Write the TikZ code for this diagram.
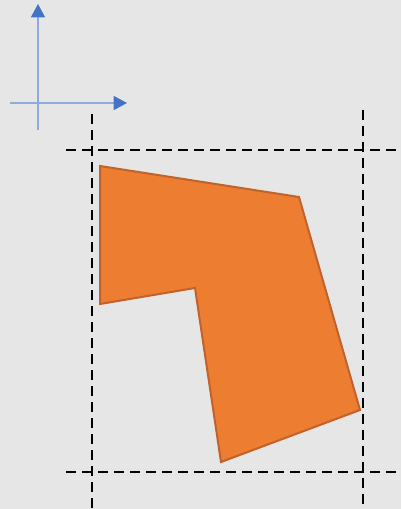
\documentclass[tikz,border=0pt]{standalone}
\usetikzlibrary{arrows.meta}
\definecolor{bg}{HTML}{E7E6E6}
\definecolor{axisline}{HTML}{8FAADC}
\definecolor{axistip}{HTML}{4472C4}
\definecolor{shapefill}{HTML}{ED7D31}
\definecolor{shapeedge}{HTML}{C0622A}
\begin{document}
\begin{tikzpicture}[x=0.75pt,y=-0.75pt,
  axis/.style={draw=axisline,line width=1.1pt,-{Triangle[length=10pt,width=10.5pt,color=axistip,fill=axistip]}},
  guide/.style={draw=black,line width=1.5pt,dash pattern=on 7.5pt off 4.5pt},
  piece/.style={fill=shapefill,draw=shapeedge,line width=1.5pt,line join=miter}]
\fill[bg] (0,0) rectangle (401,509);
\useasboundingbox (0,0) rectangle (401,509);
\coordinate (o1) at (38,130);
\coordinate (o2) at (38,4);
\coordinate (h1) at (10,103);
\coordinate (h2) at (127,103);
\draw[axis] (o1) -- (o2);
\draw[axis] (h1) -- (h2);
\coordinate (l1) at (92,114);
\coordinate (l2) at (92,509);
\coordinate (r1) at (363,110);
\coordinate (r2) at (363,509);
\coordinate (t1) at (66,150);
\coordinate (t2) at (396,150);
\coordinate (b1) at (66,472);
\coordinate (b2) at (396,472);
\draw[guide] (l1) -- (l2);
\draw[guide] (r1) -- (r2);
\draw[guide] (t1) -- (t2);
\draw[guide] (b1) -- (b2);
\coordinate (p1) at (100,166);
\coordinate (p2) at (299,197);
\coordinate (p3) at (360,410);
\coordinate (p4) at (221,462);
\coordinate (p5) at (195,288);
\coordinate (p6) at (100,304);
\draw[piece] (p1) -- (p2) -- (p3) -- (p4) -- (p5) -- (p6) -- cycle;
\end{tikzpicture}
\end{document}
